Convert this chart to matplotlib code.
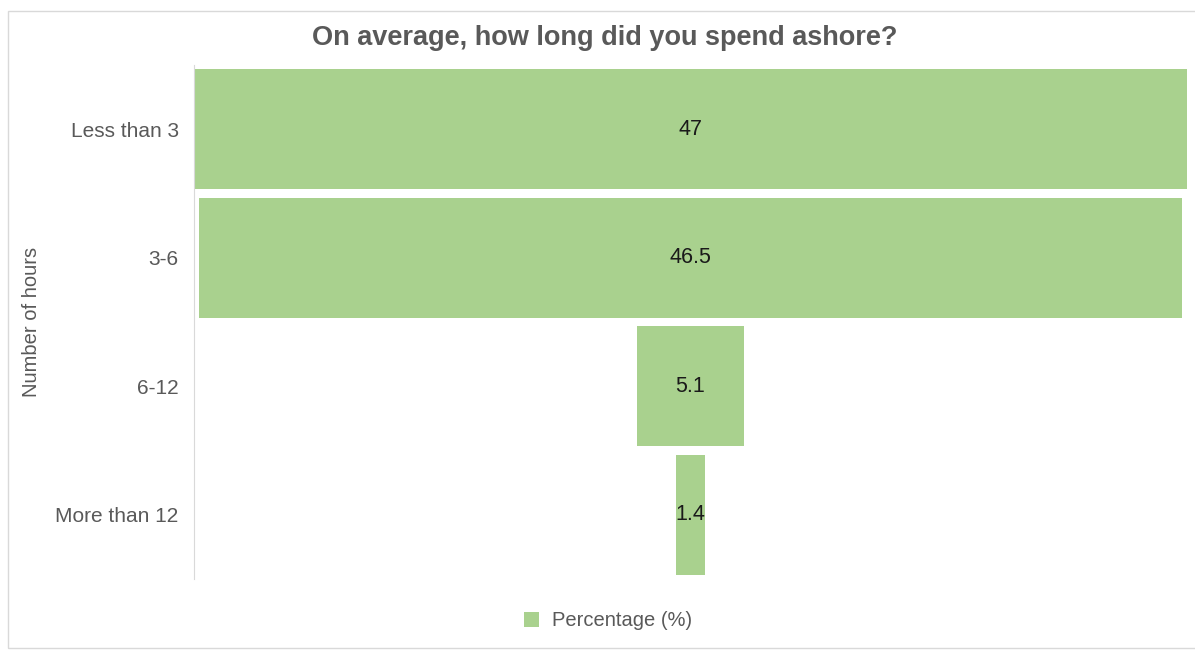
import matplotlib.pyplot as plt
from matplotlib.patches import Patch, Rectangle

# Dados da pesquisa: tempo médio em terra
categorias = ['Less than 3', '3-6', '6-12', 'More than 12']
percentuais = [47, 46.5, 5.1, 1.4]
rotulos = ['47', '46.5', '5.1', '1.4']

verde = '#A9D18E'
cinza = '#595959'

plt.rcParams['font.family'] = ['Liberation Sans', 'DejaVu Sans']

fig = plt.figure(figsize=(11.95, 6.5), dpi=100)

# moldura externa clara
fig.patches.append(Rectangle((8 / 1195, 0.003), 1.2, 1 - 11 / 650 - 0.003,
                             transform=fig.transFigure, fill=False,
                             edgecolor='#D9D9D9', linewidth=1))

ax = fig.add_axes([194 / 1195, 1 - 579 / 650, 993 / 1195, 514 / 650])

# funil: barras centradas em zero
esquerda = [-p / 2 for p in percentuais]
ax.barh(range(len(categorias)), percentuais, left=esquerda, height=0.93,
        color=verde, edgecolor='none')

for i, (p, txt) in enumerate(zip(percentuais, rotulos)):
    ax.text(0, i, txt, ha='center', va='center', fontsize=15.5, color='#1a1a1a')

ax.set_xlim(-23.5, 23.5)
ax.set_ylim(3.5, -0.5)
ax.set_yticks(range(len(categorias)))
ax.set_yticklabels(categorias, fontsize=15, color=cinza)
ax.tick_params(axis='y', length=0, pad=11)
ax.set_xticks([])

for lado in ['top', 'right', 'bottom']:
    ax.spines[lado].set_visible(False)
ax.spines['left'].set_color('#D9D9D9')

fig.text(32 / 1195, 1 - 322 / 650, 'Number of hours', rotation=90,
         ha='center', va='center', fontsize=14.5, color=cinza)

fig.text(605 / 1195, 1 - 38 / 650, 'On average, how long did you spend ashore?',
         ha='center', va='center', fontsize=19.5, fontweight='bold', color=cinza)

fig.legend(handles=[Patch(facecolor=verde, label='Percentage (%)')],
           loc='center', bbox_to_anchor=(608 / 1195, 1 - 621 / 650),
           frameon=False, fontsize=14.5, labelcolor=cinza,
           handlelength=0.75, handleheight=0.75, handletextpad=0.6)

fig.savefig('out.png', dpi=100)
